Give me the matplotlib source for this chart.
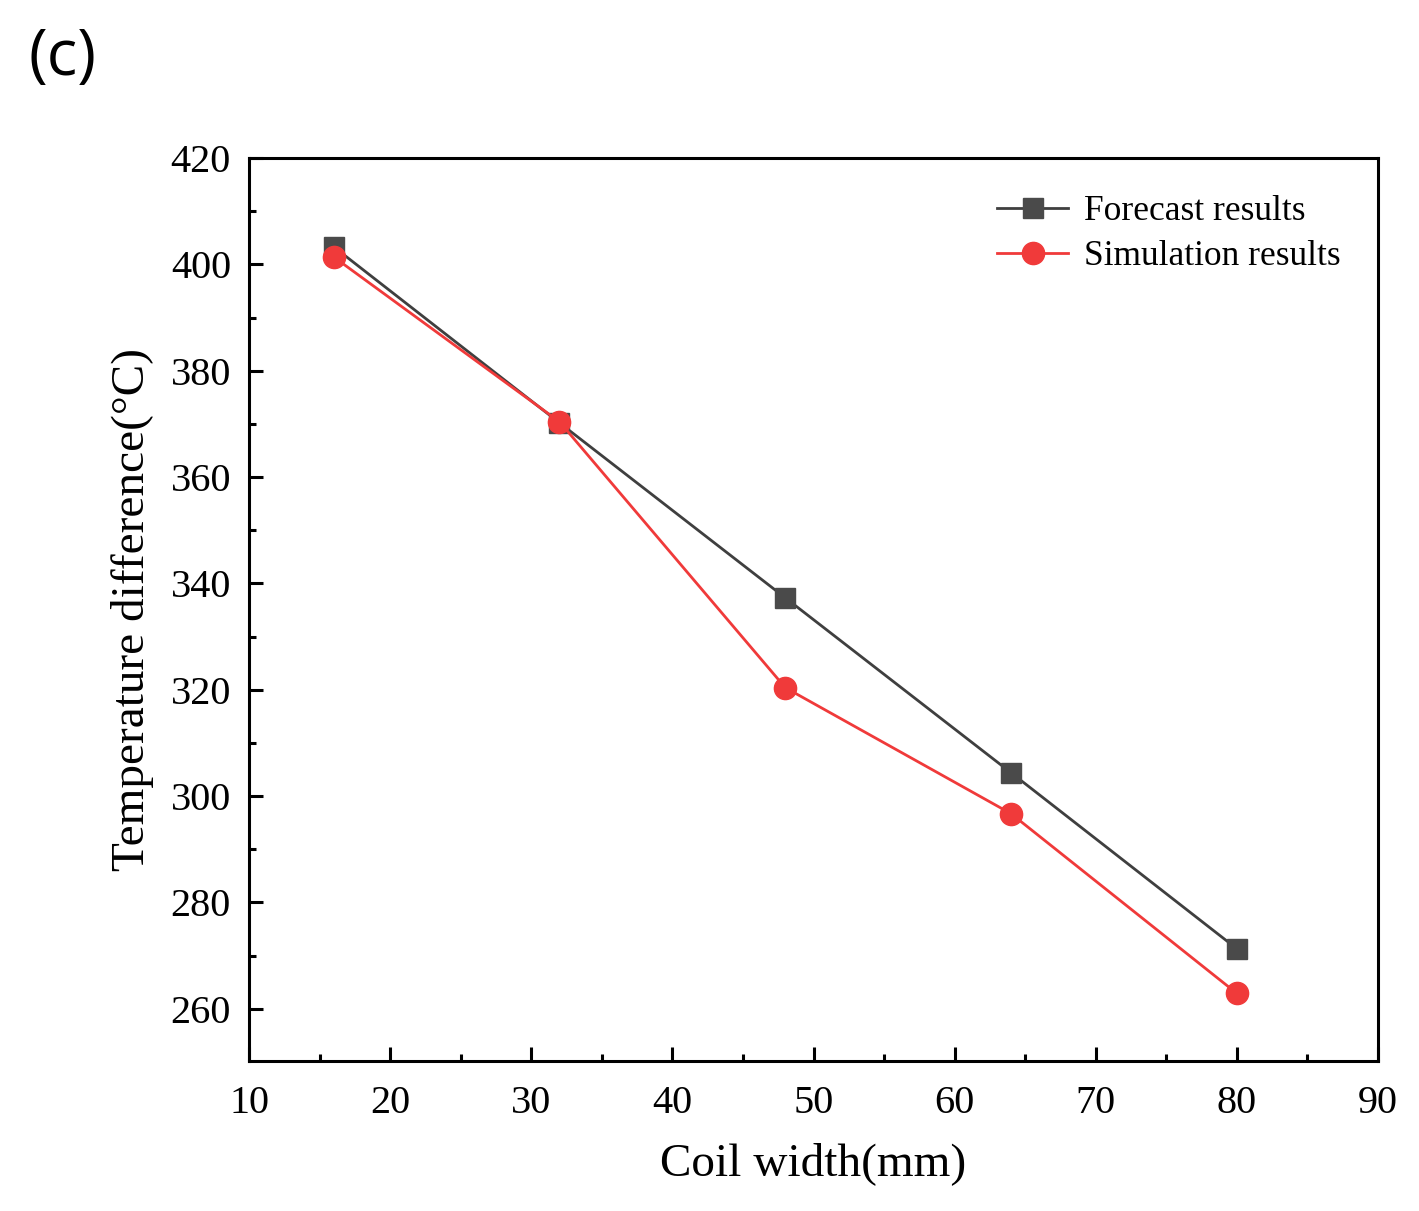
import matplotlib
matplotlib.use("Agg")
import matplotlib.pyplot as plt
from matplotlib.ticker import MultipleLocator

coil_width = [16, 32, 48, 64, 80]
forecast = [403.3, 370.2, 337.3, 304.4, 271.3]
simulation = [401.4, 370.4, 320.4, 296.7, 262.9]

plt.rcParams['font.family'] = ['Liberation Serif', 'DejaVu Serif']
plt.rcParams['mathtext.fontset'] = 'stix'

fig = plt.figure(figsize=(14.19, 12.11), dpi=100)
ax = fig.add_axes([0.1755, 0.1239, 0.9711 - 0.1755, 0.8695 - 0.1239])

ax.plot(coil_width, forecast, color='#3f3f3f', lw=2, marker='s', ms=15,
        markerfacecolor='#4a4a4a', markeredgecolor='#4a4a4a', label='Forecast results')
ax.plot(coil_width, simulation, color='#f03a3a', lw=2, marker='o', ms=16,
        markerfacecolor='#f03a3a', markeredgecolor='#f03a3a', label='Simulation results')

ax.set_xlim(10, 90)
ax.set_ylim(250.2, 420)
ax.xaxis.set_major_locator(MultipleLocator(10))
ax.xaxis.set_minor_locator(MultipleLocator(5))
ax.yaxis.set_major_locator(MultipleLocator(20))
ax.yaxis.set_minor_locator(MultipleLocator(10))
ax.tick_params(which='both', direction='in', top=False, right=False, width=2.2)
ax.tick_params(which='major', length=10, labelsize=29)
ax.tick_params(which='minor', length=5)
ax.tick_params(axis='x', which='major', pad=17)
ax.tick_params(axis='y', which='major', pad=13)
for s in ax.spines.values():
    s.set_linewidth(2.2)

ax.set_xlabel('Coil width(mm)', fontsize=34, labelpad=15)
ax.set_ylabel('Temperature difference(°C)', fontsize=34, labelpad=12)

leg = ax.legend(loc='upper right', fontsize=25.5, frameon=False, handlelength=2.0,
                borderaxespad=0.55, borderpad=0.5, handletextpad=0.45, labelspacing=0.33)

fig.text(0.02, 0.952, '(c)', fontsize=46, family=['Open Sans', 'DejaVu Sans'],
         va='center', ha='left')

fig.savefig('out.png', dpi=100)
